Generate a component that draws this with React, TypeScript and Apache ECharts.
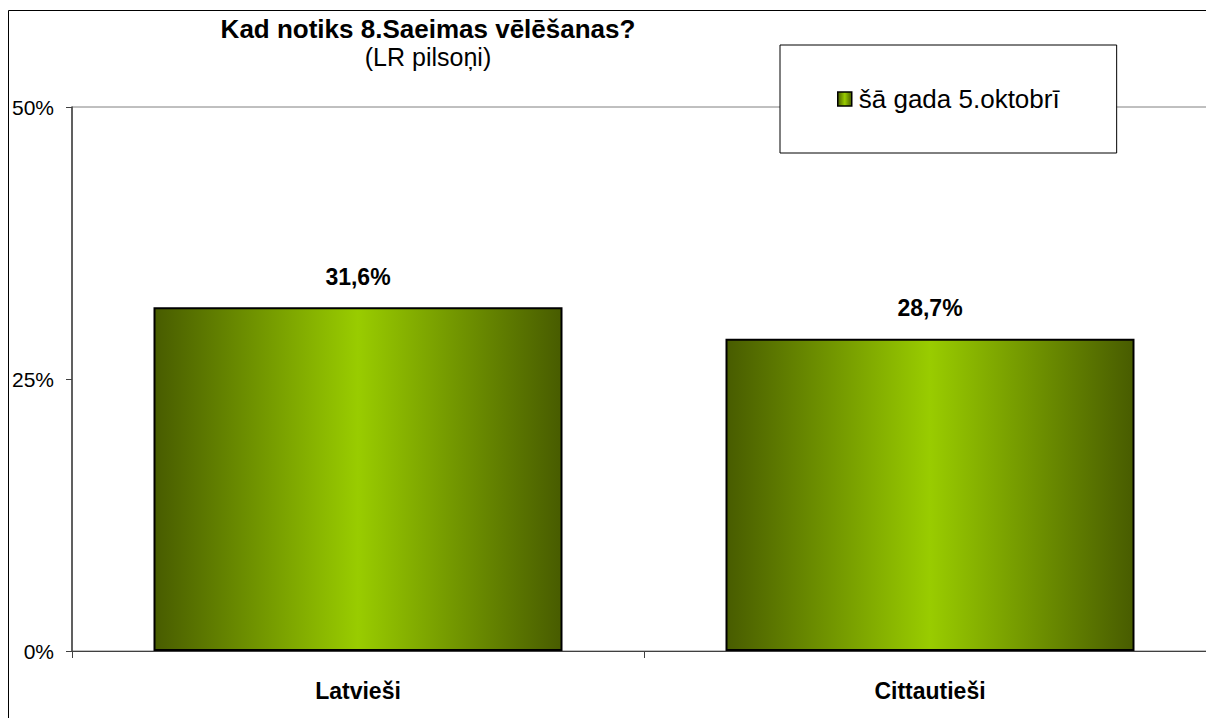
import React, { useEffect, useRef } from "react";
import * as echarts from "echarts";

const categories = ["Latvieši", "Cittautieši"];
const seriesName = "šā gada 5.oktobrī";
const values = [31.6, 28.7];
const yTicks = { min: 0, max: 50, interval: 25 };
const titleText = "Kad notiks 8.Saeimas vēlēšanas?";
const subtitleText = "(LR pilsoņi)";

const FONT = "'Liberation Sans', Arial, sans-serif";

export default function App() {
  const ref = useRef<HTMLDivElement>(null);
  useEffect(() => {
    if (!ref.current) return;
    const chart = echarts.init(ref.current, null, { renderer: "svg" });
    const grad = new echarts.graphic.LinearGradient(0, 0, 1, 0, [
      { offset: 0, color: "#485c00" },
      { offset: 0.5, color: "#99cc00" },
      { offset: 1, color: "#485c00" },
    ]);
    chart.setOption({
      animation: false,
      backgroundColor: "#ffffff",
      title: {
        text: titleText,
        subtext: subtitleText,
        left: 428,
        top: 16,
        textAlign: "center",
        padding: 0,
        itemGap: 2,
        textStyle: { fontFamily: FONT, fontSize: 26, fontWeight: "bold", color: "#000" },
        subtextStyle: { fontFamily: FONT, fontSize: 25, color: "#000" },
      },
      legend: {
        left: 780,
        top: 45,
        padding: [41, 57, 41, 57],
        backgroundColor: "#ffffff",
        borderColor: "#000",
        borderWidth: 1,
        itemWidth: 14,
        itemHeight: 14,
        itemGap: 0,
        icon: "rect",
        itemStyle: { borderColor: "#000", borderWidth: 1.5 },
        textStyle: { fontFamily: FONT, fontSize: 26, color: "#000", padding: [0, 0, 0, 2] },
        data: [seriesName],
      },
      grid: {
        left: 72,
        top: 107,
        right: 14,
        bottom: 79,
        show: true,
        borderColor: "#808080",
        borderWidth: 1,
        backgroundColor: "transparent",
      },
      xAxis: {
        type: "category",
        data: categories,
        axisLine: { show: true, lineStyle: { color: "#404040", width: 1 } },
        axisTick: { show: true, length: 7, lineStyle: { color: "#404040" } },
        axisLabel: { margin: 28, fontFamily: FONT, fontSize: 23, fontWeight: "bold", color: "#000" },
      },
      yAxis: {
        type: "value",
        min: yTicks.min,
        max: yTicks.max,
        interval: yTicks.interval,
        splitLine: { show: false },
        axisLine: { show: true, lineStyle: { color: "#404040", width: 1.5 } },
        axisTick: { show: true, length: 6, lineStyle: { color: "#404040" } },
        axisLabel: { formatter: "{value}%", margin: 18, fontFamily: FONT, fontSize: 21, color: "#000" },
      },
      series: [
        {
          name: seriesName,
          type: "bar",
          data: values,
          barWidth: 409,
          itemStyle: { color: grad, borderColor: "#000", borderWidth: 2 },
          label: {
            show: true,
            position: "top",
            distance: 19,
            formatter: (p: any) => p.value.toFixed(1).replace(".", ",") + "%",
            fontFamily: FONT,
            fontSize: 23,
            fontWeight: "bold",
            color: "#000",
          },
        },
      ],
      graphic: [
        {
          type: "polyline",
          shape: { points: [[8.5, 730], [8.5, 10.5], [1230, 10.5]] },
          style: { fill: "none", stroke: "#000", lineWidth: 1 },
          silent: true,
        },
      ],
    });
    return () => chart.dispose();
  }, []);
  return (
    <div
      style={{
        position: "fixed",
        left: 0,
        top: 0,
        width: 1206,
        height: 718,
        overflow: "hidden",
        background: "#fff",
      }}
    >
      <div ref={ref} style={{ width: 1230, height: 730 }} />
    </div>
  );
}
